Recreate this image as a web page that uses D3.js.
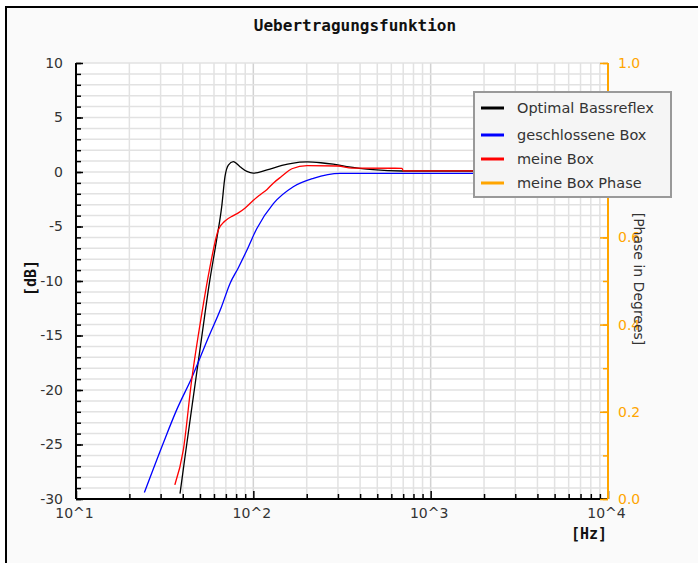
<!DOCTYPE html>
<html>
<head>
<meta charset="utf-8">
<script src="https://cdn.jsdelivr.net/npm/d3@7"></script>
<style>
  body { margin: 0; background: #fff; }
  svg { display: block; }
  .tick text { font-family: "DejaVu Sans", sans-serif; font-size: 14px; }
</style>
</head>
<body>
<svg id="chart" width="698" height="563"></svg>
<script>
// series, frequency in Hz, level in dB
var optimalHz = [38.6, 41.2, 45.9, 51.2, 56.5, 62.1, 66.3, 69.2, 72.3, 77.1, 84.1, 92, 100, 119.5, 145, 165, 201, 240, 282, 337, 398, 473, 690, 10000]
var optimalDb = [-29.5, -26.1, -20.6, -15.1, -10.2, -6.2, -3.2, -0.43, 0.64, 0.95, 0.49, 0.05, -0.1, 0.2, 0.6, 0.8, 0.92, 0.85, 0.72, 0.5, 0.34, 0.21, 0.09, 0.09]

var closedHz = [24.3, 31.0, 37.0, 44.9, 55.7, 66, 74, 82.2, 91.8, 104.5, 129.7, 168, 218, 308, 10000]
var closedDb = [-29.4, -24.9, -21.8, -18.9, -15.2, -12.4, -10.2, -8.8, -7.2, -5.2, -2.9, -1.35, -0.58, -0.12, -0.12]

var mineHz = [36.1, 40.3, 44.9, 51.2, 56.5, 63.5, 69.2, 77.1, 82.3, 90, 100, 109, 119.5, 130, 144.5, 165, 201, 300, 360, 690, 700, 10000]
var mineDb = [-28.7, -25.5, -19.1, -13.0, -9.0, -5.3, -4.5, -4.0, -3.75, -3.3, -2.6, -2.1, -1.6, -1.0, -0.4, 0.3, 0.58, 0.55, 0.36, 0.34, 0.1, 0.1]

// phase series has no visible points in the reference
var phaseHz = []
var phaseVal = []

var seriesNames = ["Optimal Bassreflex", "geschlossene Box", "meine Box", "meine Box Phase"]
var seriesColors = ["#000000", "#0000ff", "#ff0000", "#ffa500"]

var xDecades = [10, 100, 1000, 10000]
var xTickLabels = ["10^1", "10^2", "10^3", "10^4"]
var yMajor = [10, 5, 0, -5, -10, -15, -20, -25, -30]
var phaseMajor = [0, 0.2, 0.4, 0.6, 0.8, 1.0]

var svg = d3.select("#chart")
var pLeft = 76, pRight = 608, pTop = 63, pBottom = 499

var x = d3.scaleLog().domain([10, 10000]).range([pLeft, pRight])
var y = d3.scaleLinear().domain([-30, 10]).range([pBottom, pTop])
var yP = d3.scaleLinear().domain([0, 1]).range([pBottom, pTop])

// outer frame
svg.append("rect")
    .attr("x", 6).attr("y", 7)
    .attr("width", 720).attr("height", 600)
    .attr("fill", "#fafafa")
    .attr("stroke", "#000")
    .attr("stroke-width", 2)

svg.append("rect")
    .attr("x", pLeft).attr("y", pTop)
    .attr("width", pRight - pLeft).attr("height", pBottom - pTop)
    .attr("fill", "#fff")

// grid
var grid = svg.append("g").attr("class", "grid")
grid.selectAll("line.v")
    .data(x.ticks())
    .enter().append("line")
    .attr("class", "v")
    .attr("x1", d => x(d)).attr("x2", d => x(d))
    .attr("y1", pTop).attr("y2", pBottom)
    .attr("stroke", d => xDecades.includes(d) ? "#d2d2d2" : "#e2e2e2")
    .attr("stroke-width", 1.5)
grid.selectAll("line.h")
    .data(y.ticks(40))
    .enter().append("line")
    .attr("class", "h")
    .attr("x1", pLeft).attr("x2", pRight)
    .attr("y1", d => y(d)).attr("y2", d => y(d))
    .attr("stroke", "#e2e2e2")
    .attr("stroke-width", 1.5)

// curves
svg.append("clipPath").attr("id", "plotClip")
    .append("rect")
    .attr("x", pLeft).attr("y", pTop)
    .attr("width", pRight - pLeft).attr("height", pBottom - pTop)

var line = d3.line()
    .x(d => x(d[0]))
    .y(d => y(d[1]))
    .curve(d3.curveMonotoneX)

var curves = [
    d3.zip(optimalHz, optimalDb),
    d3.zip(closedHz, closedDb),
    d3.zip(mineHz, mineDb)
]
var phaseLine = d3.line().x(d => x(d[0])).y(d => yP(d[1]))

var gCurves = svg.append("g").attr("clip-path", "url(#plotClip)")
curves.forEach(function(c, i) {
    gCurves.append("path")
        .datum(c)
        .attr("d", line)
        .attr("fill", "none")
        .attr("stroke", seriesColors[i])
        .attr("stroke-width", 1.3)
})
gCurves.append("path")
    .datum(d3.zip(phaseHz, phaseVal))
    .attr("d", phaseLine)
    .attr("fill", "none")
    .attr("stroke", seriesColors[3])
    .attr("stroke-width", 1.3)

// left axis: minor then major
svg.append("g")
    .attr("transform", "translate(" + pLeft + ",0)")
    .call(d3.axisLeft(y).ticks(40).tickSize(-5).tickFormat(""))
    .call(g => g.select(".domain").remove())
    .selectAll("line").attr("stroke", "#000").attr("stroke-width", 1.5)

var yAxis = svg.append("g")
    .attr("transform", "translate(" + pLeft + ",0)")
    .call(d3.axisLeft(y).tickValues(yMajor).tickSize(-7).tickPadding(13).tickFormat(d => String(d)))
yAxis.select(".domain").attr("stroke", "#000").attr("stroke-width", 2)
    .attr("d", "M0," + pTop + "V" + pBottom)
yAxis.selectAll("line").attr("stroke", "#000").attr("stroke-width", 1.5)
yAxis.selectAll("text").attr("fill", "#333")

// bottom axis
svg.append("g")
    .attr("transform", "translate(0," + pBottom + ")")
    .call(d3.axisBottom(x).tickValues(x.ticks().filter(d => !xDecades.includes(d))).tickSize(-5).tickFormat(""))
    .call(g => g.select(".domain").remove())
    .selectAll("line").attr("stroke", "#000").attr("stroke-width", 1.5)

var xAxis = svg.append("g")
    .attr("transform", "translate(0," + pBottom + ")")
    .call(d3.axisBottom(x).tickValues(xDecades).tickSize(-8).tickPadding(9)
        .tickFormat((d, i) => xTickLabels[i]))
xAxis.select(".domain").attr("stroke", "#000").attr("stroke-width", 2)
    .attr("d", "M" + pLeft + ",0H" + pRight)
xAxis.selectAll("line").attr("stroke", "#000").attr("stroke-width", 1.5)
xAxis.selectAll("text").attr("fill", "#333").attr("dx", "-2")

// right phase axis
svg.append("g")
    .attr("transform", "translate(" + pRight + ",0)")
    .call(d3.axisRight(yP).ticks(10).tickSize(-5).tickFormat(""))
    .call(g => g.select(".domain").remove())
    .selectAll("line").attr("stroke", "#ffa500").attr("stroke-width", 1.5)

var pAxis = svg.append("g")
    .attr("transform", "translate(" + pRight + ",0)")
    .call(d3.axisRight(yP).tickValues(phaseMajor).tickSize(-8).tickPadding(10).tickFormat(d3.format(".1f")))
pAxis.select(".domain").attr("stroke", "#ffa500").attr("stroke-width", 2)
    .attr("d", "M0," + pTop + "V" + pBottom)
pAxis.selectAll("line").attr("stroke", "#ffa500").attr("stroke-width", 1.5)
pAxis.selectAll("text").attr("fill", "#ffa500")

// titles
svg.append("text")
    .attr("x", 355).attr("y", 31)
    .attr("text-anchor", "middle")
    .style("font-family", "'DejaVu Sans Mono', monospace")
    .style("font-weight", "bold")
    .style("font-size", "16px")
    .attr("fill", "#111")
    .text("Uebertragungsfunktion")

svg.append("text")
    .attr("x", 607).attr("y", 539)
    .attr("text-anchor", "end")
    .style("font-family", "'DejaVu Sans Mono', monospace")
    .style("font-weight", "bold")
    .style("font-size", "15px")
    .attr("fill", "#111")
    .text("[Hz]")

svg.append("text")
    .attr("transform", "translate(36,278) rotate(-90)")
    .attr("text-anchor", "middle")
    .style("font-family", "'DejaVu Sans Mono', monospace")
    .style("font-weight", "bold")
    .style("font-size", "15px")
    .attr("fill", "#111")
    .text("[dB]")

svg.append("text")
    .attr("transform", "translate(634,279) rotate(90)")
    .attr("text-anchor", "middle")
    .style("font-family", "'DejaVu Sans', sans-serif")
    .style("font-size", "14px")
    .attr("fill", "#333")
    .text("[Phase in Degrees]")

// legend
var legend = svg.append("g").attr("transform", "translate(474,92)")
legend.append("rect")
    .attr("width", 197).attr("height", 105)
    .attr("fill", "#f5f5f5")
    .attr("stroke", "#999")
    .attr("stroke-width", 2)

var rowY = [16, 43, 67, 91]
var item = legend.selectAll("g.item")
    .data(seriesNames)
    .enter().append("g")
    .attr("class", "item")
    .attr("transform", (d, i) => "translate(0," + rowY[i] + ")")
item.append("line")
    .attr("x1", 7).attr("x2", 30)
    .attr("stroke", (d, i) => seriesColors[i])
    .attr("stroke-width", 3)
item.append("text")
    .attr("x", 43).attr("dy", "0.35em")
    .style("font-family", "'DejaVu Sans', sans-serif")
    .style("font-size", "14.5px")
    .attr("fill", "#333")
    .text(d => d)
</script>
</body>
</html>
